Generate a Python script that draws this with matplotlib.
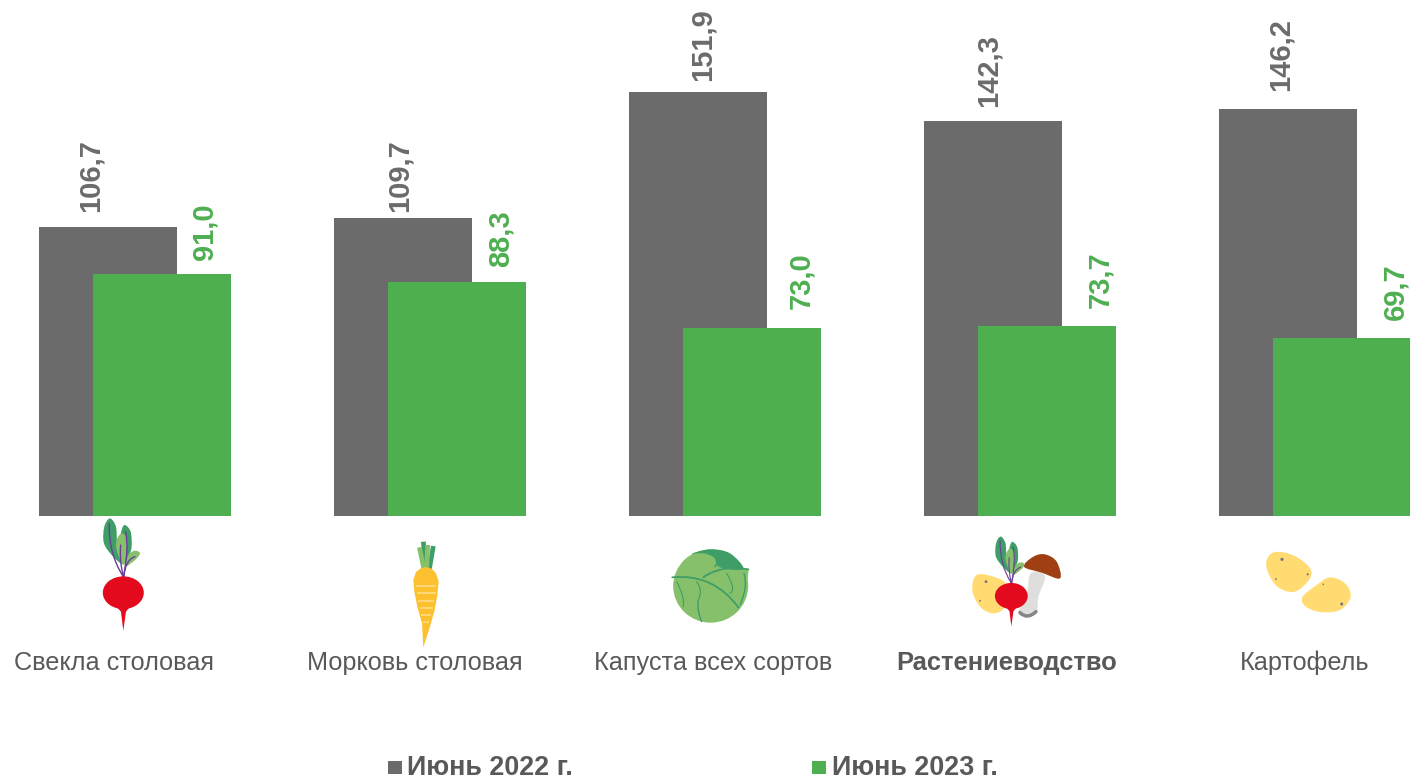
import numpy as np
import matplotlib
matplotlib.use("Agg")
import matplotlib.pyplot as plt
from matplotlib.path import Path
from matplotlib.patches import PathPatch, Ellipse, Rectangle

plt.rcParams['font.family'] = ['Liberation Sans', 'DejaVu Sans']

# ---- data ----
categories = ["Свекла столовая", "Морковь столовая", "Капуста всех сортов", "Растениеводство", "Картофель"]
values_2022 = [106.7, 109.7, 151.9, 142.3, 146.2]
values_2023 = [91.0, 88.3, 73.0, 73.7, 69.7]
series_names = ["Июнь 2022 г.", "Июнь 2023 г."]

# ---- style / layout ----
W, H = 1410, 778
GRAY, GREEN, TEXT = "#6B6B6B", "#4EAF50", "#595959"
DARK_LEAF, LIGHT_LEAF, PURPLE = "#3F9E68", "#86C06A", "#6A3D9A"
RED, YELLOW, ORANGE = "#E30A1E", "#FFDB71", "#FDC02F"
BASE_Y = 516          # baseline, px from the top
PX_PER_UNIT = 2.993
V0 = 10.2             # value at the axis bottom
STEP = 295.0          # px between categories
X0 = 135.0            # px of first category centre
gray_label_dx = [-17, -3, 5, -4, -7]
green_label_dx = [42, 44, 49, 53, 53]
gray_label_dy = [15, 6, 11, 14, 18]
green_label_dy = [14, 15, 19, 18, 18]
cat_label_x = [114, 415, 713, 1007, 1305]

fig = plt.figure(figsize=(W / 100, H / 100), dpi=100, facecolor="white")
ax = fig.add_axes([0, (H - BASE_Y) / H, 1, BASE_Y / H])
ax.set_xlim(-X0 / STEP, (W - X0) / STEP)
ax.set_ylim(V0, V0 + BASE_Y / PX_PER_UNIT)
ax.axis("off")

x = np.arange(len(categories))
bw, off = 138 / STEP, 27 / STEP
ax.bar(x - off, values_2022, bw, color=GRAY, zorder=2)
ax.bar(x + off, values_2023, bw, color=GREEN, zorder=3)

for i in range(len(x)):
    ax.annotate(f"{values_2022[i]:.1f}".replace(".", ","), (x[i] - off, values_2022[i]),
                xytext=(gray_label_dx[i], gray_label_dy[i]), textcoords="offset pixels", rotation=90,
                ha="center", va="bottom", fontsize=21, fontweight="bold", color=GRAY)
    ax.annotate(f"{values_2023[i]:.1f}".replace(".", ","), (x[i] + off, values_2023[i]),
                xytext=(green_label_dx[i], green_label_dy[i]), textcoords="offset pixels", rotation=90,
                ha="center", va="bottom", fontsize=21, fontweight="bold", color=GREEN,
                annotation_clip=False)

# overlay in pixel coordinates for icons, captions and legend
ov = fig.add_axes([0, 0, 1, 1], facecolor="none")
ov.set_xlim(0, W)
ov.set_ylim(H, 0)
ov.axis("off")

for i, name in enumerate(categories):
    bold = name == "Растениеводство"
    ov.text(cat_label_x[i], 670, name, ha="center", va="baseline", fontsize=18.4 if bold else 18.15, color=TEXT,
            fontweight="bold" if bold else "normal")

for sx, tx, col, name in [(388, 407, GRAY, series_names[0]), (812, 832, GREEN, series_names[1])]:
    ov.add_patch(Rectangle((sx, 761), 14, 13, color=col, lw=0))
    ov.text(tx, 775, name, ha="left", va="baseline", fontsize=19.4, fontweight="bold", color=TEXT)


def blob(pts, color, z=5):
    """Closed smooth shape through points (Catmull-Rom to Bezier)."""
    p = np.array(pts, float)
    n = len(p)
    verts = [p[0]]
    codes = [Path.MOVETO]
    for i in range(n):
        p0, p1, p2, p3 = p[i - 1], p[i], p[(i + 1) % n], p[(i + 2) % n]
        verts += [p1 + (p2 - p0) / 6, p2 - (p3 - p1) / 6, p2]
        codes += [Path.CURVE4] * 3
    ov.add_patch(PathPatch(Path(verts, codes), fc=color, ec="none", zorder=z))


def curve(pts, color, lw, z=6):
    p = np.array(pts, float)
    if len(p) == 3:
        ov.add_patch(PathPatch(Path(p, [Path.MOVETO, Path.CURVE3, Path.CURVE3]), fc="none", ec=color, lw=lw, zorder=z,
                               capstyle="round"))
    else:
        ov.plot(p[:, 0], p[:, 1], color=color, lw=lw, zorder=z, solid_capstyle="butt")


def poly(pts, color, z=5):
    ov.fill([q[0] for q in pts], [q[1] for q in pts], color=color, lw=0, zorder=z)


def beet(cx, cy, s, z=5):
    T = lambda pts: [(cx + (a - 190) / 3 * s, cy + (b - 248) / 3 * s) for a, b in pts]
    blob(T([(150, 25), (168, 50), (172, 100), (188, 160), (160, 140), (132, 100), (133, 50)]), DARK_LEAF, z)
    blob(T([(195, 45), (212, 65), (215, 110), (205, 140), (190, 160), (180, 100), (185, 60)]), DARK_LEAF, z)
    blob(T([(185, 70), (200, 85), (200, 120), (190, 165), (170, 120), (170, 90)]), LIGHT_LEAF, z + .1)
    blob(T([(225, 122), (240, 130), (225, 150), (195, 170), (205, 135)]), LIGHT_LEAF, z + .1)
    for c in ([(148, 40), (145, 130), (190, 200)], [(197, 65), (208, 120), (190, 200)],
              [(182, 105), (178, 150), (190, 200)], [(225, 140), (195, 150), (192, 200)]):
        curve(T(c), PURPLE, 1.0 * max(s, .8), z + .2)
    ov.add_patch(Ellipse((cx, cy), 123 / 3 * s, 98 / 3 * s, color=RED, lw=0, zorder=z + .3))
    poly(T([(168, 288), (212, 288), (198, 305), (190, 362), (183, 305)]), RED, z + .3)


# beet
beet(123.3, 592.7, 1.0)

# carrot (zoomed coordinates, origin 60,510)
Zc = lambda pts: [(60 + a / 3, 510 + b / 3) for a, b in pts]
for c, col in (([(1098, 178), (1090, 95)], DARK_LEAF), ([(1108, 178), (1120, 108)], DARK_LEAF),
               ([(1092, 178), (1078, 112)], LIGHT_LEAF), ([(1100, 178), (1103, 105)], LIGHT_LEAF)):
    curve(Zc(c), col, 3.4)
poly(Zc([(1098, 171), (1115, 176), (1128, 190), (1136, 215), (1132, 255), (1124, 300), (1110, 350), (1090, 412),
         (1086, 340), (1072, 290), (1063, 245), (1060, 210), (1068, 186), (1082, 175)]), ORANGE, 6)
for yy, x0, x1 in [(228, 1067, 1129), (250, 1070, 1127), (272, 1074, 1123), (293, 1079, 1118),
                   (315, 1084, 1113), (337, 1089, 1108)]:
    curve(Zc([(x0, yy), (x1, yy)]), "#FFDD85", 1.2, 7)

# cabbage (origin 640,510)
Zk = lambda pts: [(640 + a / 3, 510 + b / 3) for a, b in pts]
ov.add_patch(Ellipse((640 + 212 / 3, 510 + 228 / 3), 225 / 3, 220 / 3, color=LIGHT_LEAF, lw=0, zorder=5))
blob(Zk([(155, 131), (212, 118), (270, 130), (310, 177), (240, 172), (222, 143), (190, 130)]), DARK_LEAF, 6)
poly(Zk([(300, 176), (326, 178), (322, 215), (300, 215)]), LIGHT_LEAF, 5.5)
for c, lw in (([(97, 202), (220, 190), (295, 292)], 1.3), ([(190, 202), (240, 165), (325, 178)], 1.3),
              ([(225, 170), (240, 145), (258, 130)], 1.2), ([(300, 285), (325, 230), (312, 190)], 1.0),
              ([(175, 270), (170, 300), (185, 335)], 1.0), ([(110, 215), (135, 260), (130, 290)], .8),
              ([(260, 190), (290, 240), (270, 250)], .8), ([(175, 270), (190, 240), (170, 215)], .8)):
    curve(Zk(c), DARK_LEAF, lw, 7)

# composite icon for the crop-growing total
blob(Zk([(1172, 190), (1215, 198), (1195, 260), (1190, 305), (1160, 322), (1135, 305), (1160, 260)]), "#DEDEDC", 5)
curve(Zk([(1140, 308), (1162, 330), (1188, 305)]), "#858585", 2.5, 5.1)
blob(Zk([(1152, 170), (1180, 140), (1215, 133), (1250, 155), (1260, 205), (1205, 188)]), "#A03F14", 5.2)
blob(Zk([(1010, 195), (1060, 200), (1100, 225), (1095, 290), (1060, 310), (1020, 290), (997, 240)]), YELLOW, 5.3)
for a, b, r in [(1038, 215, 1.4), (1020, 272, .9)]:
    ov.add_patch(Ellipse((640 + a / 3, 510 + b / 3), 2 * r, 2 * r, color="#777777", lw=0, zorder=5.4))
beet(640 + 1114 / 3, 510 + 258 / 3, 0.8, 5.5)

# potatoes (origin 1240,530)
Zp = lambda pts: [(1240 + a / 3, 530 + b / 3) for a, b in pts]
blob(Zp([(105, 66), (160, 76), (208, 112), (210, 145), (165, 185), (115, 172), (85, 130), (80, 90)]), YELLOW)
blob(Zp([(270, 142), (315, 160), (332, 200), (300, 240), (240, 246), (195, 228), (188, 200), (230, 165)]), YELLOW)
for a, b, r in [(126, 88, 1.6), (203, 133, 1.1), (108, 147, .9), (250, 163, .8), (305, 222, 1.5)]:
    (px, py), = Zp([(a, b)])
    ov.add_patch(Ellipse((px, py), 2 * r, 2 * r, color="#777777", lw=0, zorder=6))

fig.savefig("out.png", dpi=100, facecolor="white")
